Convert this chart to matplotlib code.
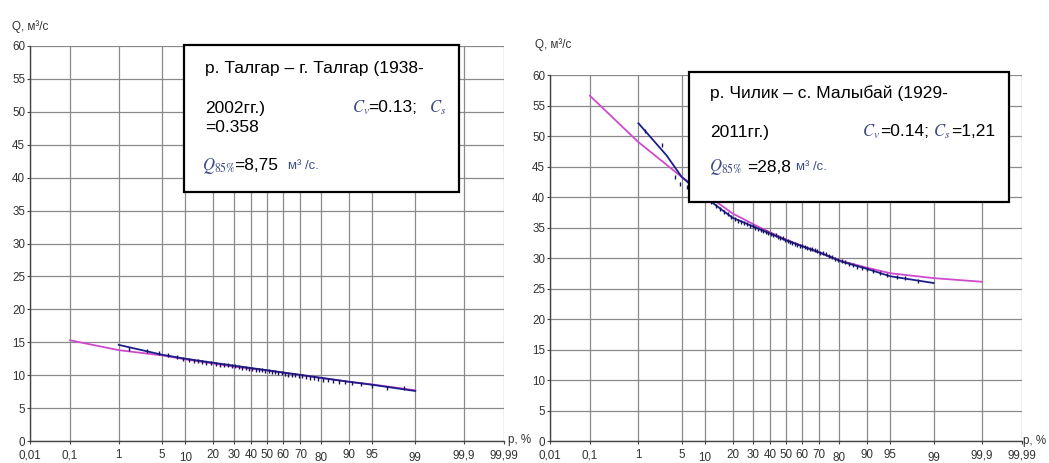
import numpy as np
import matplotlib
matplotlib.use("Agg")
import matplotlib.pyplot as plt
from matplotlib.patches import Rectangle
from matplotlib.transforms import ScaledTranslation
from statistics import NormalDist

# ---------------- data ----------------
x_ticks = [0.01, 0.1, 1, 5, 10, 20, 30, 40, 50, 60, 70, 80, 90, 95, 99, 99.9, 99.99]
x_tick_labels = ["0,01", "0,1", "1", "5", "10", "20", "30", "40", "50", "60", "70",
                 "80", "90", "95", "99", "99,9", "99,99"]
low_labels = ["10", "80", "99"]
y_ticks = list(range(0, 61, 5))

# Left panel: Talgar
talgar_curve_p = [0.1, 1, 5, 10, 30, 50, 70, 90, 95, 99]
talgar_curve_q = [15.3, 13.8, 13.0, 12.4, 11.3, 10.7, 10.0, 9.0, 8.6, 7.7]
talgar_line_p = [1, 5, 10, 30, 50, 70, 90, 95, 99]
talgar_line_q = [14.6, 13.1, 12.5, 11.45, 10.75, 10.05, 9.0, 8.55, 7.6]
talgar_pts_p = [1.5, 3.0, 4.5, 6.0, 8, 9.5, 11, 12.5, 14, 15.5, 17, 19, 21, 23, 25, 27, 29,
                31, 33, 35, 37, 39, 41, 43, 45, 47, 49, 51, 53, 55, 57, 59, 61, 63, 65,
                67, 69, 71, 73, 75, 77, 79, 81, 83, 85, 87, 89, 91, 93, 95, 97, 98.4]
talgar_pts_q = [13.9, 13.6, 13.3, 13.1, 12.7, 12.5, 12.3, 12.2, 12.1, 12.0, 11.9, 11.8,
                11.7, 11.6, 11.55, 11.5, 11.4, 11.35, 11.25, 11.15, 11.05, 11.0, 10.9,
                10.85, 10.8, 10.75, 10.7, 10.65, 10.55, 10.45, 10.35, 10.3, 10.2, 10.1,
                10.0, 9.95, 9.9, 9.8, 9.7, 9.6, 9.5, 9.4, 9.3, 9.2, 9.1, 9.0, 8.9, 8.8,
                8.6, 8.4, 8.1, 8.1]

# Right panel: Chilik
chilik_curve_p = [0.1, 1, 5, 10, 20, 34, 50, 71, 81, 90, 95, 99, 99.9]
chilik_curve_q = [56.6, 49.0, 43.3, 40.6, 37.3, 35.0, 33.0, 30.8, 29.5, 28.4, 27.5, 26.7, 26.1]
chilik_line_p = [1, 3, 5, 10, 20, 34, 50, 71, 81, 90, 95, 99]
chilik_line_q = [52.1, 46.8, 43.3, 40.0, 36.6, 34.7, 32.9, 30.8, 29.4, 28.2, 27.0, 25.9]
chilik_pts_p = [1.3, 2.5, 4.0, 4.8, 6, 7, 8, 9, 10.5, 12, 13.5, 15, 16.5, 18, 19.5, 21,
                22.5, 24, 25.5, 27, 28.5, 30, 31.5, 33, 34.5, 36, 37.5, 39, 40.5, 42,
                43.5, 45, 46.5, 48, 49.5, 51, 52.5, 54, 55.5, 57, 58.5, 60, 61.5, 63,
                64.5, 66, 67.5, 69, 70.5, 72, 73.5, 75, 76.5, 78, 79.5, 81, 82.5, 84,
                85.5, 87, 88.5, 90, 91.5, 93, 94.5, 96, 97, 98.1]
chilik_pts_q = [50.8, 48.5, 43.3, 42.2, 41.6, 41.0, 40.6, 40.3, 39.8, 39.2, 38.6, 38.1,
                37.6, 37.2, 36.8, 36.4, 36.1, 35.9, 35.7, 35.5, 35.3, 35.2, 35.0, 34.8,
                34.6, 34.5, 34.3, 34.1, 34.0, 33.8, 33.7, 33.5, 33.3, 33.2, 33.0, 32.8,
                32.6, 32.4, 32.3, 32.2, 32.0, 31.9, 31.8, 31.6, 31.5, 31.4, 31.3, 31.1,
                30.9, 30.8, 30.6, 30.4, 30.2, 29.9, 29.7, 29.5, 29.3, 29.0, 28.9, 28.6,
                28.4, 28.2, 27.9, 27.6, 27.2, 26.9, 26.7, 26.2]

# ---------------- probability scale ----------------
_nd = NormalDist()


def _fwd_scalar(v):
    if not np.isfinite(v):
        return np.nan
    v = min(max(v, 1e-7), 100 - 1e-7)
    return _nd.inv_cdf(v / 100.0)


def _inv_scalar(v):
    if not np.isfinite(v):
        return np.nan
    return _nd.cdf(v) * 100.0


def prob_fwd(x):
    return np.vectorize(_fwd_scalar, otypes=[float])(np.asarray(x, float))


def prob_inv(y):
    return np.vectorize(_inv_scalar, otypes=[float])(np.asarray(y, float))


W, H = 1049, 463
fig = plt.figure(figsize=(W / 100, H / 100), dpi=100)
fig.patch.set_facecolor("white")

tick_font = ["Liberation Sans", "DejaVu Sans"]
text_font = ["Liberation Sans", "DejaVu Sans"]
plt.rcParams["mathtext.fontset"] = "stix"


def fx(x):
    return x / W


def fy(y):
    return 1 - y / H


def make_axes(x0, x1, ytop, ybot):
    ax = fig.add_axes([fx(x0), fy(ybot), (x1 - x0) / W, (ybot - ytop) / H])
    ax.set_xscale("function", functions=(prob_fwd, prob_inv))
    ax.set_xlim(0.01, 99.99)
    ax.set_ylim(0, 60)
    ax.set_xticks(x_ticks)
    ax.set_xticklabels(x_tick_labels)
    ax.minorticks_off()
    ax.set_yticks(y_ticks)
    ax.set_yticklabels([str(v) for v in y_ticks])
    ax.grid(True, color="#8a8a8a", lw=0.9)
    ax.set_axisbelow(True)
    for s in ("top", "right"):
        ax.spines[s].set_visible(False)
    for s in ("left", "bottom"):
        ax.spines[s].set_color("#444444")
        ax.spines[s].set_linewidth(1.0)
    ax.tick_params(axis="both", length=2.5, width=0.8, color="#444444",
                   labelsize=8.4, labelcolor="#333333")
    ax.tick_params(axis="x", pad=3.6)
    ax.tick_params(axis="y", pad=1)
    for lab in ax.get_xticklabels() + ax.get_yticklabels():
        lab.set_family(tick_font)
    for lab in ax.get_xticklabels():
        if lab.get_text() in low_labels:
            lab.set_transform(lab.get_transform() +
                              ScaledTranslation(0, -1.7 / 72, fig.dpi_scale_trans))
    return ax


blue = "#1e1e8c"
pink = "#d04ad0"
ptc = "#151560"

ax1 = make_axes(30, 504, 46, 441)
ax1.plot(talgar_curve_p, talgar_curve_q, color=pink, lw=1.3, zorder=3)
ax1.plot(talgar_line_p, talgar_line_q, color=blue, lw=1.3, zorder=4)
ax1.plot(talgar_pts_p, talgar_pts_q, ls="none", marker="|", ms=3.5, mew=1.0,
         color=ptc, zorder=5)

ax2 = make_axes(550, 1022, 75, 441)
ax2.plot(chilik_curve_p, chilik_curve_q, color=pink, lw=1.3, zorder=3)
ax2.plot(chilik_line_p, chilik_line_q, color=blue, lw=1.3, zorder=4)
ax2.plot(chilik_pts_p, chilik_pts_q, ls="none", marker="|", ms=3.5, mew=1.0,
         color=ptc, zorder=5)

# axis titles
for (x, y) in [(12, 27), (535, 45)]:
    fig.text(fx(x), fy(y), "Q, м³/с", family=tick_font, fontsize=8.4,
             color="#333333", ha="left", va="center")
for (x, y) in [(508, 440), (1023, 441)]:
    fig.text(fx(x), fy(y), "p, %", family=tick_font, fontsize=8.4,
             color="#333333", ha="left", va="center")

# annotation boxes
def box(x0, y0, x1, y1):
    r = Rectangle((fx(x0), fy(y1)), (x1 - x0) / W, (y1 - y0) / H,
                  transform=fig.transFigure, facecolor="white", edgecolor="black",
                  lw=1.6, zorder=10)
    fig.add_artist(r)


mcol = "#3d4c86"
fs = 12.5
ms_ = 12


def t(x, y, s, col="black", size=fs):
    fig.text(fx(x), fy(y), s, family=text_font, fontsize=size, color=col,
             ha="left", va="center", zorder=11)


box(184, 45, 459, 192)
t(205, 68, "р. Талгар – г. Талгар (1938-")
t(205, 108, "2002гг.)")
t(352, 108, r"$C_v$", mcol, ms_)
t(368, 108, "=0.13;")
t(429, 108, r"$C_s$", mcol, ms_)
t(205, 127, "=0.358")
t(202, 166, r"$Q_{85\%}$", mcol, ms_)
t(234, 166, "=8,75")
t(288, 166, "м³ /с.", mcol, 9.5)

box(689, 72, 1009, 202)
t(710, 93, "р. Чилик – с. Малыбай (1929-")
t(710, 132, "2011гг.)")
t(862, 132, r"$C_v$", mcol, ms_)
t(880, 132, "=0.14;")
t(933, 132, r"$C_s$", mcol, ms_)
t(951, 132, "=1,21")
t(709, 167, r"$Q_{85\%}$", mcol, ms_)
t(747, 167, "=28,8")
t(796, 167, "м³ /с.", mcol, 9.5)

fig.savefig("out.png", dpi=100)
